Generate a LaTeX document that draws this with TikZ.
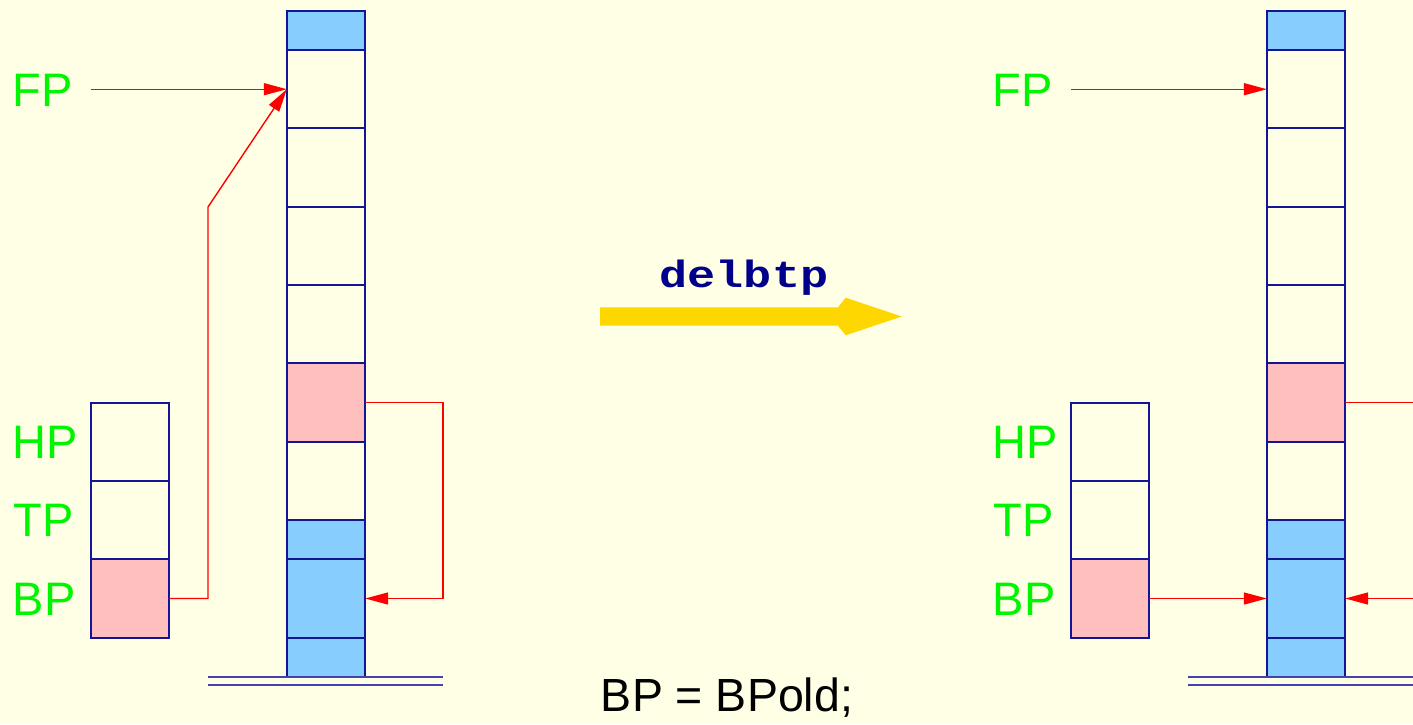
\documentclass[tikz,border=0pt]{standalone}
\usepackage{fontspec}
\usepackage{graphicx}
\setmainfont{Liberation Sans}
\newfontfamily\monob{Liberation Mono}
\usetikzlibrary{arrows.meta}
\definecolor{bg}{RGB}{255,255,230}
\definecolor{cellblue}{RGB}{135,206,255}
\definecolor{cellpink}{RGB}{255,191,191}
\definecolor{navy}{RGB}{20,20,150}
\definecolor{lblgreen}{RGB}{0,245,0}
\definecolor{gold}{RGB}{255,215,0}
\definecolor{codeblue}{RGB}{0,0,139}
\tikzset{
 cell/.style={draw=navy, line width=1.8pt, minimum width=78.3pt, inner sep=0pt, outer sep=0pt},
 full/.style={cell, minimum height=78.3pt},
 half/.style={cell, minimum height=39.2pt},
 bluecell/.style={fill=cellblue},
 pinkcell/.style={fill=cellpink},
 ptr/.style={draw=red, line width=1.4pt, -{Triangle[length=23pt,width=12pt]}},
 lbl/.style={text=lblgreen, font=\fontsize{47}{56}\selectfont, anchor=base west, inner sep=0pt},
 ground/.style={draw=navy!80, line width=1.6pt}
}
\newcommand\drawstate[1]{%
 \node[half,bluecell] (c1) at (326,30.6) {};
 \node[full] (c2) at (326,89.2) {};
 \node[full] (c3) at (326,167.5) {};
 \node[full] (c4) at (326,245.8) {};
 \node[full] (c5) at (326,324.2) {};
 \node[full,pinkcell] (c6) at (326,402.5) {};
 \node[full] (c7) at (326,480.8) {};
 \node[half,bluecell] (c8) at (326,539.5) {};
 \node[full,bluecell] (c9) at (326,598.5) {};
 \node[half,bluecell] (c10) at (326,657.4) {};
 \node[full] (hp) at (130,441.8) {};
 \node[full] (tp) at (130,520.2) {};
 \node[full,pinkcell] (bp) at (130,598.5) {};
 \node[lbl] (FP) at (12.5,106) {FP};
 \node[lbl] (HPl) at (12.5,458.5) {HP};
 \node[lbl] (TPl) at (13.5,536.7) {TP};
 \node[lbl] (BPl) at (12.5,615) {BP};
 \coordinate (fpstart) at (91,89.2);
 \coordinate (g1a) at (208,677);
 \coordinate (g1b) at (443,677);
 \coordinate (g2a) at (208,685);
 \coordinate (g2b) at (443,685);
 \draw[ground] (g1a) -- (g1b);
 \draw[ground] (g2a) -- (g2b);
 \draw[ptr] (fpstart) -- (c2.west);
 \draw[ptr] (c6.east) -- ++(78,0) |- (c9.east);
 #1
}
\begin{document}
\begin{tikzpicture}[x=1pt,y=-1pt]
\useasboundingbox (0,0) rectangle (1413,724);
\fill[bg] (0,0) rectangle (1413,724);
\clip (0,0) rectangle (1413,724);
\begin{scope}[name prefix=L-]
\drawstate{%
 \coordinate (bend) at (208,207);
 \draw[ptr] (bp.east) -| (bend) -- (c2.west);}
\end{scope}
\begin{scope}[xshift=980pt, name prefix=R-]
\drawstate{%
 \draw[ptr] (bp.east) -- (c9.west);}
\end{scope}
\fill[gold] (600,307.3) -- (838,307.3) -- (845.7,297.7) -- (901.7,316.5) -- (845.7,335.3) -- (838,325.7) -- (600,325.7) -- cycle;
\node[font=\monob\bfseries\fontsize{40}{48}\selectfont, text=codeblue, anchor=base, inner sep=0pt] (op) at (744,287) {\scalebox{1.17}[0.95]{delbtp}};
\node[font=\fontsize{46.5}{54}\selectfont, anchor=base, inner sep=0pt] (code) at (727,711) {BP = BPold;};
\end{tikzpicture}
\end{document}
